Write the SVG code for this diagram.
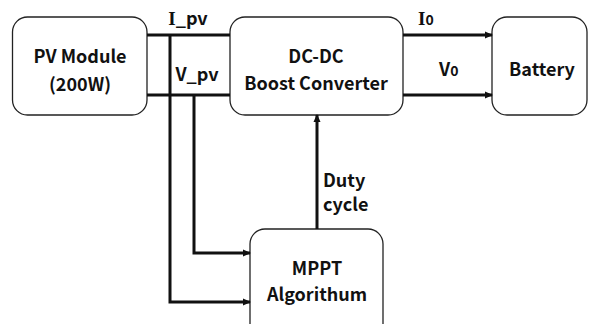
<svg xmlns="http://www.w3.org/2000/svg" width="593" height="324" viewBox="0 0 593 324">
<style>
.box{fill:#fff;stroke:#222;stroke-width:1.3}
.t{font-family:"Noto Sans CJK KR","Noto Sans",sans-serif;font-weight:bold;font-size:18px;fill:#111;text-anchor:middle}
.l{text-anchor:start}
.s{font-family:"Liberation Serif",serif;font-size:19px}
.w{fill:none;stroke:#111;stroke-width:3}
</style>
<defs>
<marker id="ah" markerWidth="8" markerHeight="8" refX="7" refY="4" orient="auto" markerUnits="userSpaceOnUse">
<path d="M0,0.5 L8,4 L0,7.5 Z" fill="#111"/>
</marker>
</defs>
<rect width="593" height="324" fill="#fff"/>
<g id="pv">
<rect class="box" x="12.5" y="17" width="134.5" height="98" rx="15"/>
<text class="t" x="80" y="63">PV Module</text>
<text class="t" x="80" y="91">(200W)</text>
</g>
<g id="dcdc">
<rect class="box" x="230" y="17" width="173" height="98" rx="15"/>
<text class="t" x="316" y="63">DC-DC</text>
<text class="t" x="316" y="90">Boost Converter</text>
</g>
<g id="battery">
<rect class="box" x="492" y="17" width="95" height="98" rx="15"/>
<text class="t" x="542" y="76">Battery</text>
</g>
<g id="mppt">
<rect class="box" x="250" y="229" width="133" height="110" rx="15"/>
<text class="t" x="317" y="275">MPPT</text>
<text class="t" x="317" y="301">Algorithum</text>
</g>
<g id="connectors">
<path class="w" d="M147,35 H230"/>
<path class="w" d="M147,95 H230"/>
<path class="w" d="M170,35 V302 H250" marker-end="url(#ah)"/>
<path class="w" d="M194,95 V253 H250" marker-end="url(#ah)"/>
<path class="w" d="M403,35 H492" marker-end="url(#ah)"/>
<path class="w" d="M403,95 H492" marker-end="url(#ah)"/>
<path class="w" d="M317,229 V115" marker-end="url(#ah)"/>
<text class="t" x="188" y="25"><tspan class="s">I</tspan>_pv</text>
<text class="t" x="197" y="81">V_pv</text>
<text class="t l" x="418" y="25"><tspan class="s">I</tspan><tspan font-size="14">0</tspan></text>
<text class="t l" x="439" y="76">V<tspan font-size="14">0</tspan></text>
<text class="t l" x="323" y="187">Duty</text>
<text class="t l" x="323" y="211">cycle</text>
</g>
</svg>
